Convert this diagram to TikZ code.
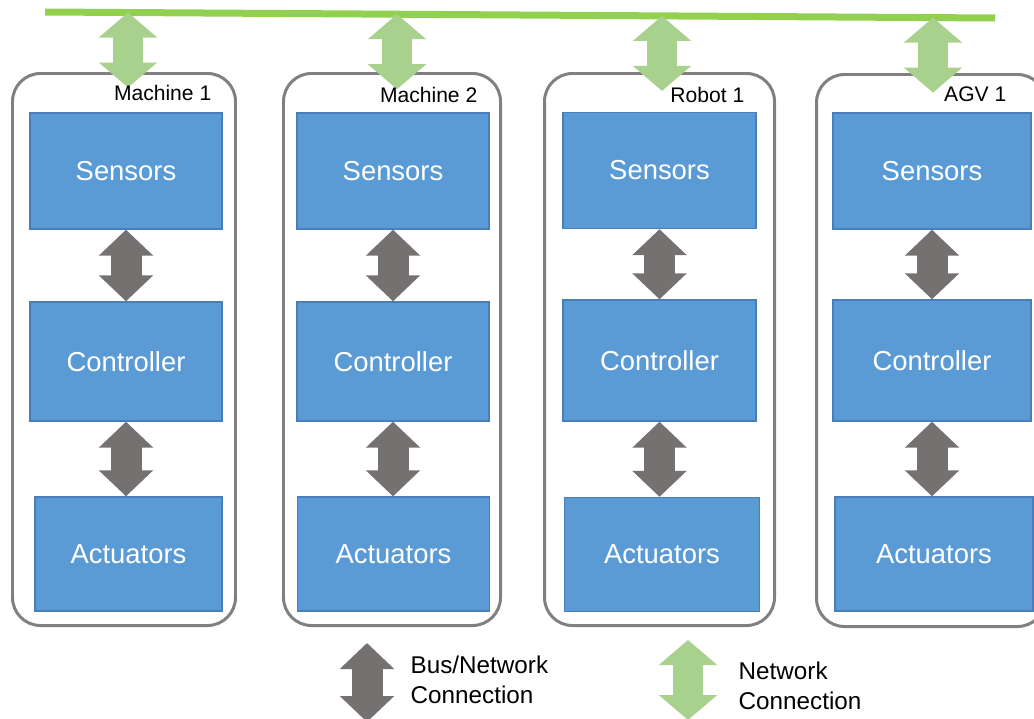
\documentclass[tikz,border=0pt]{standalone}
\usepackage{fontspec}
\setmainfont{Liberation Sans}
\usepackage{xcolor}
\usepackage{tikz}
\usetikzlibrary{arrows.meta}
\usetikzlibrary{shapes}

\definecolor{boxblue}{RGB}{91,155,213}
\definecolor{boxedge}{RGB}{74,126,187}
\definecolor{busgray}{RGB}{118,113,113}
\definecolor{netgreen}{RGB}{169,209,142}
\definecolor{linegreen}{RGB}{146,208,80}
\definecolor{panelgray}{RGB}{128,128,128}

\tikzset{
    block/.style={rectangle, fill=boxblue, draw=boxedge, line width=0.4pt, text=white,
        minimum width=1.92cm, minimum height=1.16cm, font=\fontsize{7.8}{9}\selectfont},
    panel/.style={rectangle, rounded corners=0.28cm, draw=panelgray, line width=0.85pt,
        minimum height=5.52cm},
    tag/.style={anchor=base east, inner sep=0pt, font=\fontsize{6}{7}\selectfont},
    legend/.style={anchor=base west, inner sep=0pt, font=\fontsize{6.9}{8}\selectfont},
    buslink/.style={line width=0.31cm, draw=busgray,
        arrows={Triangle[length=0.26cm,width=0.53cm]-Triangle[length=0.26cm,width=0.53cm]}},
    netlink/.style={line width=0.30cm, draw=netgreen,
        arrows={Triangle[length=0.25cm,width=0.57cm]-Triangle[length=0.25cm,width=0.57cm]}}
}

\begin{document}
\begin{tikzpicture}
        \useasboundingbox (0, 0) rectangle (10.34, 7.18);
        \clip (0, 0) rectangle (10.34, 7.18);

        % network line
        \coordinate (busL) at (0.45, 7.06);
        \coordinate (busR) at (9.95, 7.00);
        \draw[linegreen, line width=0.07cm] (busL) -- (busR);

        % Machine 1
        \node[panel, minimum width=2.23cm] (m1) at (1.24, 3.685) {};
        \coordinate (t1) at (1.28, 7.055);
        \coordinate (b1) at (1.28, 6.305);
        \draw[netlink] (t1) -- (b1);
        \node[tag] (l1) at (2.12, 6.18) {Machine 1};
        \node[block] (s1) at (1.26, 5.47) {Sensors};
        \node[block, minimum height=1.19cm] (c1) at (1.26, 3.565) {Controller};
        \node[block, minimum width=1.87cm, minimum height=1.14cm] (a1) at (1.285, 1.64) {Actuators};
        \draw[buslink] (s1.south) -- (c1.north);
        \draw[buslink] (c1.south) -- (c1.south |- a1.north);

        % Machine 2
        \node[panel, minimum width=2.17cm] (m2) at (3.92, 3.685) {};
        \coordinate (t2) at (3.97, 7.038);
        \coordinate (b2) at (3.97, 6.288);
        \draw[netlink] (t2) -- (b2);
        \node[tag] (l2) at (4.78, 6.16) {Machine 2};
        \node[block] (s2) at (3.93, 5.47) {Sensors};
        \node[block, minimum height=1.19cm] (c2) at (3.93, 3.565) {Controller};
        \node[block, minimum height=1.14cm] (a2) at (3.935, 1.64) {Actuators};
        \draw[buslink] (s2.south) -- (c2.north);
        \draw[buslink] (c2.south) -- (c2.south |- a2.north);

        % Robot 1
        \node[panel, minimum width=2.30cm] (m3) at (6.595, 3.685) {};
        \coordinate (t3) at (6.62, 7.021);
        \coordinate (b3) at (6.62, 6.271);
        \draw[netlink] (t3) -- (b3);
        \node[tag] (l3) at (7.45, 6.16) {Robot 1};
        \node[block, minimum width=1.93cm] (s3) at (6.595, 5.475) {Sensors};
        \node[block, minimum width=1.93cm, minimum height=1.21cm] (c3) at (6.595, 3.575) {Controller};
        \node[block, minimum width=1.95cm, minimum height=1.14cm] (a3) at (6.62, 1.635) {Actuators};
        \draw[buslink] (s3.south) -- (c3.north);
        \draw[buslink] (c3.south) -- (c3.south |- a3.north);

        % AGV 1
        \node[panel, minimum width=2.29cm] (m4) at (9.31, 3.675) {};
        \coordinate (t4) at (9.33, 7.004);
        \coordinate (b4) at (9.33, 6.254);
        \draw[netlink] (t4) -- (b4);
        \node[tag] (l4) at (10.07, 6.17) {AGV 1};
        \node[block, minimum width=1.98cm] (s4) at (9.32, 5.47) {Sensors};
        \node[block, minimum width=1.98cm, minimum height=1.21cm] (c4) at (9.32, 3.575) {Controller};
        \node[block, minimum width=1.98cm, minimum height=1.14cm] (a4) at (9.34, 1.64) {Actuators};
        \draw[buslink] (s4.south) -- (c4.north);
        \draw[buslink] (c4.south) -- (c4.south |- a4.north);

        % legend
        \coordinate (k1) at (3.67, 0.75);
        \coordinate (k2) at (3.67, -0.04);
        \draw[buslink] (k1) -- (k2);
        \node[legend] (kb1) at (4.10, 0.45) {Bus/Network};
        \node[legend] (kb2) at (4.10, 0.15) {Connection};
        \coordinate (k3) at (6.88, 0.78);
        \coordinate (k4) at (6.88, -0.02);
        \draw[netlink] (k3) -- (k4);
        \node[legend] (kn1) at (7.38, 0.39) {Network};
        \node[legend] (kn2) at (7.38, 0.09) {Connection};
    \end{tikzpicture}
\end{document}
